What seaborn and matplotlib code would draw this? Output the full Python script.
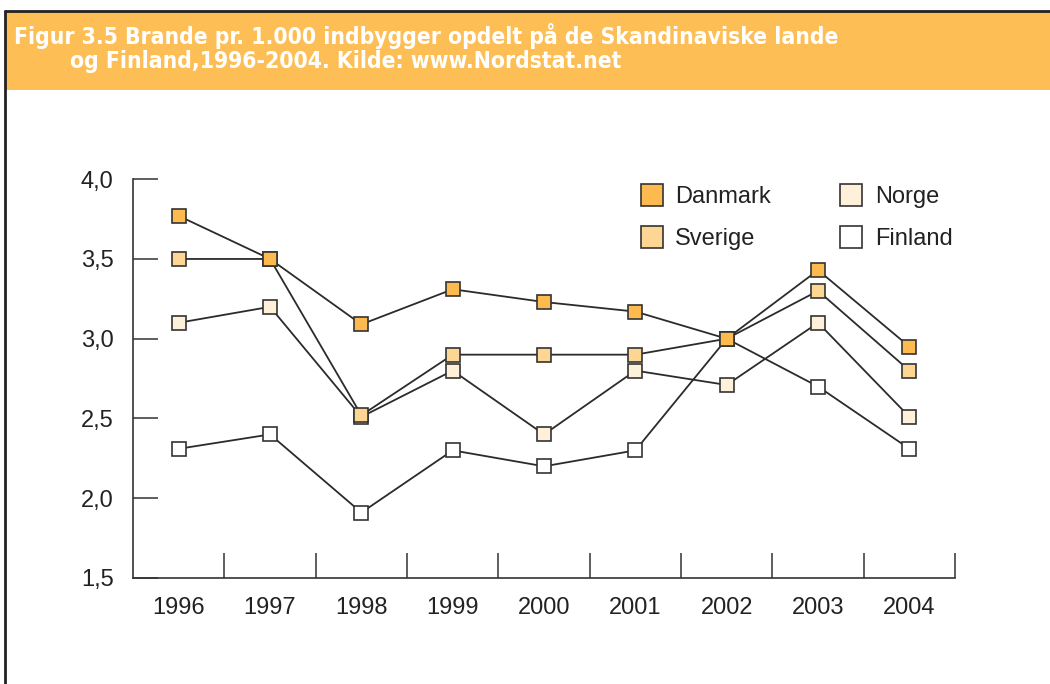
import numpy as np
import pandas as pd
import matplotlib.pyplot as plt
import matplotlib.patches as mpatches
from matplotlib.lines import Line2D
import seaborn as sns

# Data (fires per 1,000 inhabitants)
years = [1996, 1997, 1998, 1999, 2000, 2001, 2002, 2003, 2004]
danmark = [3.77, 3.50, 3.09, 3.31, 3.23, 3.17, 3.00, 3.43, 2.95]
sverige = [3.50, 3.50, 2.52, 2.90, 2.90, 2.90, 3.00, 3.30, 2.80]
norge = [3.10, 3.20, 2.51, 2.80, 2.40, 2.80, 2.71, 3.10, 2.51]
finland = [2.31, 2.40, 1.91, 2.30, 2.20, 2.30, 3.00, 2.70, 2.31]

countries = ["Danmark", "Sverige", "Norge", "Finland"]
fills = {"Danmark": "#fdbb4f", "Sverige": "#fed694",
         "Norge": "#fff0da", "Finland": "#ffffff"}

df = pd.DataFrame({
    "year": years * 4,
    "value": danmark + sverige + norge + finland,
    "land": [c for c in countries for _ in years],
})

sns.set_style("white")
plt.rcParams["font.family"] = ["Liberation Sans", "DejaVu Sans"]

fig = plt.figure(figsize=(10.5, 6.84), dpi=100)
ax = fig.add_axes([0.1267, 0.155, 0.7829, 0.583])

edge = "#333333"
# draw Finland first so Danmark ends up on top
for land in reversed(countries):
    sub = df[df["land"] == land]
    sns.lineplot(data=sub, x="year", y="value", ax=ax, color="#2b2b2b",
                 linewidth=1.3, marker="s", markersize=9.5,
                 markerfacecolor=fills[land], markeredgecolor=edge,
                 markeredgewidth=1.2, legend=False)

ax.set_xlim(years[0] - 0.5, years[-1] + 0.5)
ax.set_ylim(1.5, 4.0)
ax.set_xlabel("")
ax.set_ylabel("")

ax.set_xticks(years)
ax.set_xticklabels([str(y) for y in years], fontsize=17, color="#222222")
ax.set_xticks([y + 0.5 for y in years], minor=True)
ax.tick_params(axis="x", which="both", bottom=True)
ax.tick_params(axis="x", which="major", length=0, pad=14)
ax.tick_params(axis="x", which="minor", direction="in", length=18,
               width=1.1, color="#333333")

yt = [1.5, 2.0, 2.5, 3.0, 3.5, 4.0]
ax.set_yticks(yt)
ax.set_yticklabels([f"{v:.1f}".replace(".", ",") for v in yt],
                   fontsize=17, color="#222222")
ax.tick_params(axis="y", left=True, direction="in", length=18, width=1.1,
               color="#333333", pad=14)

for s in ["top", "right"]:
    ax.spines[s].set_visible(False)
for s in ["left", "bottom"]:
    ax.spines[s].set_color("#333333")
    ax.spines[s].set_linewidth(1.2)

handles = [Line2D([], [], linestyle="none", marker="s", markersize=16,
                  markerfacecolor=fills[c], markeredgecolor=edge,
                  markeredgewidth=1.2, label=c) for c in countries]
fig.legend(handles=handles, ncol=2, loc="upper left",
           bbox_to_anchor=(628 / 1050, 1 - 174 / 684), frameon=False,
           fontsize=17, borderpad=0, handlelength=1.0, handletextpad=0.5,
           columnspacing=2.9, labelspacing=0.85, labelcolor="#222222")

# header band and frame lines
fig.patches.append(mpatches.Rectangle((5 / 1050, 1 - 90 / 684), 1, 79 / 684,
                                      transform=fig.transFigure,
                                      facecolor="#fdbe55", edgecolor="none"))
fig.lines.append(Line2D([5 / 1050, 1], [1 - 11 / 684] * 2,
                        transform=fig.transFigure, color="#222222", lw=2))
fig.lines.append(Line2D([5 / 1050] * 2, [0, 1 - 11 / 684],
                        transform=fig.transFigure, color="#222222", lw=2))

hfont = dict(color="white", fontsize=16.4, fontweight="bold",
             fontstretch="condensed", family=["DejaVu Sans"])
fig.text(14 / 1050, 1 - 44 / 684,
         "Figur 3.5 Brande pr. 1.000 indbygger opdelt på de Skandinaviske lande",
         va="baseline", **hfont)
fig.text(70 / 1050, 1 - 68 / 684,
         "og Finland,1996-2004. Kilde: www.Nordstat.net",
         va="baseline", **hfont)

fig.savefig("out.png", dpi=100)
